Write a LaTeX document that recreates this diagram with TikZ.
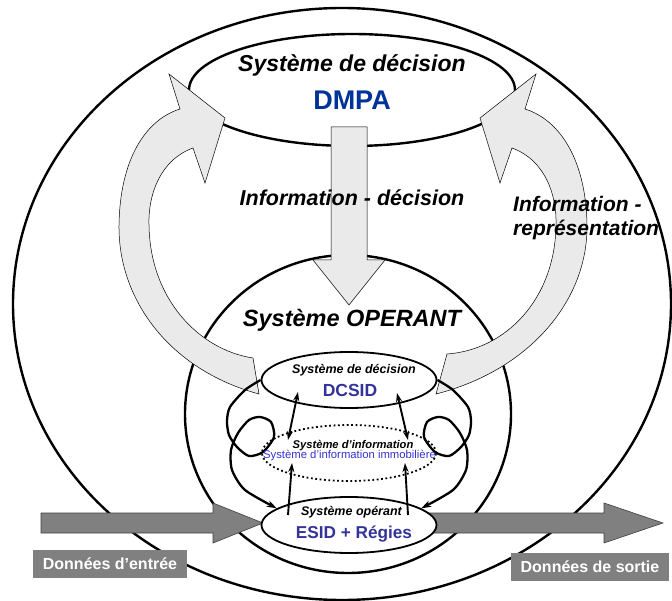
\documentclass[tikz,border=0pt]{standalone}
\usepackage{fontspec}
\setmainfont{Liberation Sans}
\usepackage{xcolor}
\definecolor{dmpablue}{RGB}{0,51,153}
\definecolor{sidblue}{RGB}{51,51,153}
\definecolor{siblue}{RGB}{51,51,204}
\definecolor{fluxgris}{RGB}{234,234,234}
\definecolor{donneegris}{RGB}{128,128,128}
\usetikzlibrary{arrows.meta,positioning,shapes.geometric}

\begin{document}
\begin{tikzpicture}[
    x=1pt, y=-1pt,
    ell/.style={draw, ellipse, inner sep=0pt, line width=2.4pt},
    sousell/.style={draw, ellipse, inner sep=0pt, line width=1.8pt, minimum width=175pt, minimum height=56pt},
    pointille/.style={dash pattern=on 1.8pt off 2.6pt},
    flux/.style={fill=fluxgris, draw=black, line width=0.5pt},
    donnee/.style={fill=donneegris, draw=black!75, line width=0.6pt},
    etiquette/.style={fill=donneegris, text=white, font=\fontsize{16}{19}\selectfont\bfseries, minimum height=28pt, inner sep=0pt},
    knot/.style={line width=2.3pt, -{Stealth[length=10pt,width=6.5pt]}},
    lien/.style={line width=1.9pt, -{Stealth[length=9pt,width=6pt]}},
    duolien/.style={line width=1.9pt, {Stealth[length=9pt,width=6pt]}-{Stealth[length=9pt,width=6pt]}},
    titre/.style={anchor=base, inner sep=0pt, font=\fontsize{23}{27}\selectfont\bfseries\itshape},
    soustitre/.style={anchor=base, inner sep=0pt, font=\fontsize{12.5}{15}\selectfont\bfseries\itshape},
    sigle/.style={anchor=base, inner sep=0pt, font=\fontsize{17.5}{20}\selectfont\bfseries, text=sidblue}
]
\useasboundingbox (0,0) rectangle (672,601);

\node[ell, minimum width=658pt, minimum height=592pt] (systeme) at (342,304) {};
\node[ell, minimum width=326pt, minimum height=112pt] (decision) at (352,90) {};
\node[ell, minimum width=326pt, minimum height=318pt] (operant) at (348,414) {};

% flux d'information
\draw[flux] (259,394) .. controls (170,370) and (118,300) .. (119,225)
    .. controls (120,160) and (145,120) .. (180,109) -- (169,74) -- (225,118) -- (205,183) -- (193,148)
    .. controls (160,160) and (148,195) .. (149,225) .. controls (150,300) and (200,350) .. (253,358) -- cycle;
\draw[flux] (436,394) .. controls (530,370) and (588,300) .. (587,225)
    .. controls (586,160) and (560,120) .. (525,109) -- (536,74) -- (480,118) -- (500,183) -- (512,148)
    .. controls (545,160) and (557,195) .. (556,225) .. controls (555,300) and (505,350) .. (447,354) -- cycle;
\draw[flux] (331,127) -- (367,127) -- (367,260) -- (385,260) -- (349,305) -- (313,260) -- (331,260) -- cycle;

% donnees
\draw[donnee] (41,513) -- (213,513) -- (213,503) -- (263,523) -- (213,543) -- (213,533) -- (41,533) -- cycle;
\draw[donnee] (425,513) -- (604,513) -- (604,503) -- (663,523) -- (604,543) -- (604,533) -- (425,533) -- cycle;

\node[sousell, fill=white] (dcsid) at (349,380) {};
\node[sousell, pointille, minimum width=174pt] (info) at (349,453) {};
\node[sousell, fill=white] (esid) at (349,525) {};

\draw[knot] plot[smooth, tension=0.45] coordinates {(dcsid.west) (245,390) (230,407) (227,421) (229,435) (237,447) (249,456) (263,452) (274,437) (271,422) (260,417) (249,420) (238,433) (231,450) (232,470) (245,490) (esid.167)};
\draw[knot] plot[smooth, tension=0.45] coordinates {(dcsid.east) (453,390) (468,407) (471,421) (469,435) (461,447) (449,456) (435,452) (424,437) (427,422) (438,417) (449,420) (460,433) (467,450) (466,470) (453,490) (esid.13)};

\coordinate (dcsidg) at (298,392);
\coordinate (infog) at (288,440);
\coordinate (dcsidd) at (397,393);
\coordinate (infod) at (408,440);
\coordinate (esidg) at (288,515);
\coordinate (infobg) at (292,463);
\coordinate (esidd) at (408,515);
\coordinate (infobd) at (405,463);
\draw[duolien] (dcsidg) -- (infog);
\draw[duolien] (dcsidd) -- (infod);
\draw[lien] (esidg) -- (infobg);
\draw[lien] (esidd) -- (infobd);

\node[titre] (dectitre) at (352,72) {Système de décision};
\node[anchor=base, inner sep=0pt, font=\fontsize{27}{30}\selectfont\bfseries, text=dmpablue] (dmpa) at (352,110) {DMPA};
\node[titre, font=\fontsize{21.5}{25}\selectfont\bfseries\itshape] (infodec) at (352,206) {Information - décision};
\node[anchor=north west, align=left, inner sep=0pt, font=\fontsize{21}{24}\selectfont\bfseries\itshape] (inforep) at (513,196) {Information -\\représentation};
\node[titre, font=\fontsize{23.5}{27}\selectfont\bfseries\itshape] (optitre) at (352,327) {Système OPERANT};
\node[soustitre] (dcsidtitre) at (354,374) {Système de décision};
\node[sigle] (dcsidsigle) at (350,397) {DCSID};
\node[soustitre, font=\fontsize{11.2}{13}\selectfont\bfseries\itshape] (infotitre) at (353,448) {Système d’information};
\node[anchor=base, inner sep=0pt, font=\fontsize{11.3}{13}\selectfont, text=siblue] (infosi) at (349.5,458) {Système d’information immobilière};
\node[soustitre] (esidtitre) at (351.5,515) {Système opérant};
\node[sigle, font=\fontsize{17.2}{20}\selectfont\bfseries] (esidsigle) at (354,538) {ESID + Régies};

\node[etiquette, minimum width=154pt] (entree) at (110,564) {Données d’entrée};
\node[etiquette, minimum width=158pt] (sortie) at (590,567) {Données de sortie};
\end{tikzpicture}
\end{document}
